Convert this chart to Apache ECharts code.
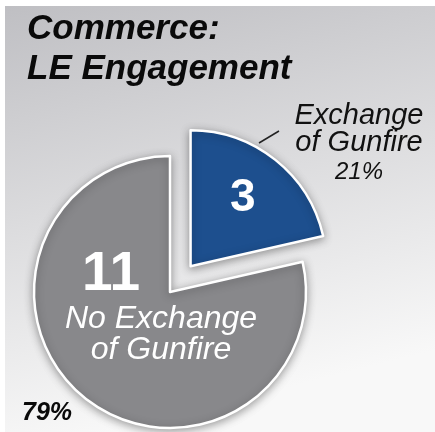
<!DOCTYPE html>
<html>
<head>
<meta charset="utf-8">
<script src="https://cdn.jsdelivr.net/npm/echarts@6/dist/echarts.min.js"></script>
<style>html,body{margin:0;padding:0;background:#fff}#c{width:435px;height:432px}</style>
</head>
<body>
<div id="c"></div>
<script>
const titleLines = ['Commerce:', 'LE Engagement'];
const categories = ['Exchange of Gunfire', 'No Exchange of Gunfire'];
const values = [3, 11];
const colors = ['#1d4f8e', '#88888b'];

const chart = echarts.init(document.getElementById('c'), null, {renderer: 'canvas'});
const FONT = '"Liberation Sans", Arial, sans-serif';
const total = values.reduce((a, b) => a + b, 0);
const pct = values.map(v => Math.round(v / total * 100) + '%');

const data = categories.map((c, i) => ({
  name: c, value: values[i], selected: i === 0,
  itemStyle: {color: colors[i]},
  label: i === 0 ? {padding: [0, 0, 24, 16]} : {}
}));

chart.setOption({
  animation: false,
  graphic: [
    {type: 'rect', z: -10, shape: {x: 5, y: 6, width: 430, height: 426},
     style: {fill: new echarts.graphic.LinearGradient(0, 0, 0.25, 1, [
       {offset: 0, color: '#bfbfc3'}, {offset: 0.5, color: '#dcdcde'}, {offset: 1, color: '#f8f8f8'}])}},
    {type: 'text', left: 27, top: 9, z: 10,
     style: {text: titleLines.join('\n'), font: 'italic bold 35px ' + FONT, fill: '#0a0a0a', lineHeight: 40}},
    {type: 'text', x: 359, y: 102, z: 10,
     style: {text: '{a|Exchange}\n{a|of Gunfire}\n{b|' + pct[0] + '}', align: 'center',
       rich: {
         a: {fontSize: 29, fontStyle: 'italic', fontFamily: FONT, fill: '#111', lineHeight: 27, align: 'center'},
         b: {fontSize: 24, fontStyle: 'italic', fontFamily: FONT, fill: '#111', lineHeight: 32, align: 'center'}
       }}},
    {type: 'line', z: 10, shape: {x1: 259, y1: 143, x2: 279, y2: 131}, style: {stroke: '#222', lineWidth: 1.5}},
    {type: 'text', x: 22, y: 401, z: 10,
     style: {text: pct[1], font: 'italic bold 25px ' + FONT, fill: '#0a0a0a'}}
  ],
  series: [
    {
      type: 'pie', center: [170, 292], radius: 136, startAngle: 90, clockwise: true,
      selectedMode: 'single', selectedOffset: 33, silent: true,
      itemStyle: {borderColor: '#ffffff', borderWidth: 2.5, shadowBlur: 8, shadowColor: 'rgba(0,0,0,0.35)', shadowOffsetY: 2},
      label: {
        show: true, position: 'inside', color: '#fff',
        formatter: p => p.dataIndex === 0 ? '{n|' + p.value + '}' : '{m|' + p.value + '}\n{t|No Exchange}\n{t|of Gunfire}',
        rich: {
          n: {fontSize: 46, fontWeight: 'bold', fontFamily: FONT, color: '#fff'},
          m: {fontSize: 55, fontWeight: 'bold', fontFamily: FONT, color: '#fff', padding: [0, 100, 0, 0], lineHeight: 58},
          t: {fontSize: 32, fontStyle: 'italic', fontFamily: FONT, color: '#fff', lineHeight: 31}
        }
      },
      labelLine: {show: false},
      labelLayout: p => p.dataIndex === 1 ? {x: 161, y: 306, align: 'center', verticalAlign: 'middle'} : {},
      data: data
    }
  ]
});
</script>
</body>
</html>
